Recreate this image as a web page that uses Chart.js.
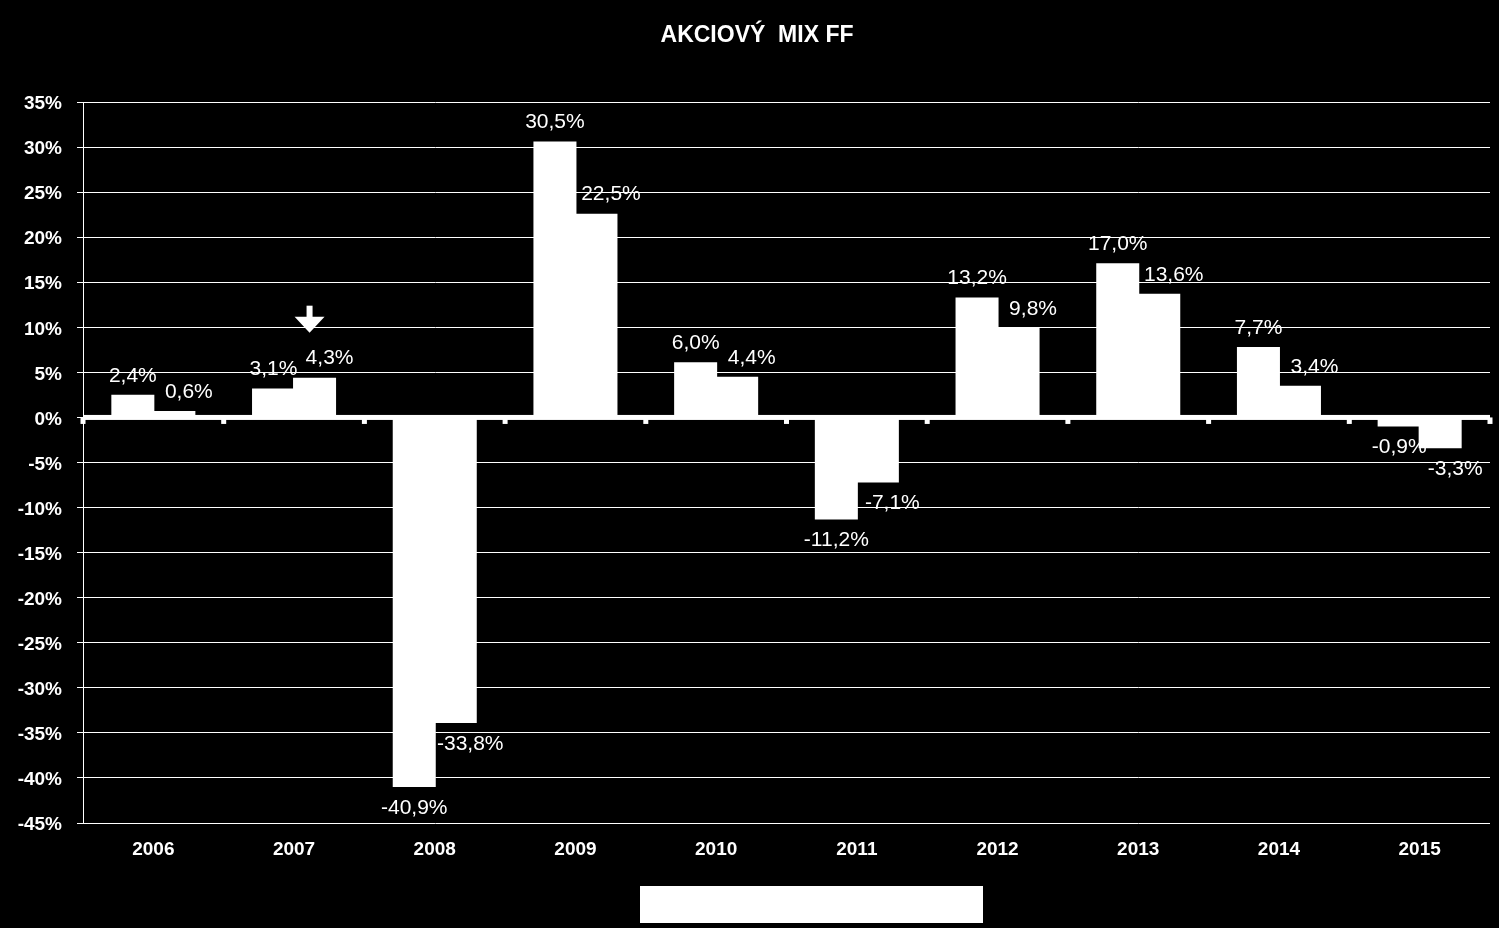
<!DOCTYPE html>
<html>
<head>
<meta charset="utf-8">
<script src="https://cdn.jsdelivr.net/npm/chart.js@4/dist/chart.umd.min.js"></script>
<style>
  body { margin: 0; background: #000; }
  canvas { display: block; }
</style>
</head>
<body>
<canvas id="chartCanvas" width="1499" height="928"></canvas>
<script>
// chart data
var titleText = "AKCIOVÝ  MIX FF";
var years = ["2006", "2007", "2008", "2009", "2010", "2011", "2012", "2013", "2014", "2015"];
var seriesA = [2.4, 3.1, -40.9, 30.5, 6.0, -11.2, 13.2, 17.0, 7.7, -0.9];
var seriesB = [0.6, 4.3, -33.8, 22.5, 4.4, -7.1, 9.8, 13.6, 3.4, -3.3];
var yMin = -45, yMax = 35, yStep = 5;

var fontName = "'Liberation Sans', Arial, sans-serif";

function fmt(v) {
    return v.toFixed(1).replace(".", ",") + "%";
}

//Plugin drawing the background, zero axis, value labels, arrow, title and legend box
var decor = {
    id: "decor",
    beforeDraw: function (chart) {
        var ctx = chart.ctx;
        ctx.save();
        ctx.fillStyle = "#000";
        ctx.fillRect(0, 0, chart.width, chart.height);
        ctx.restore();
    },
    afterDatasetsDraw: function (chart) {
        var ctx = chart.ctx;
        var area = chart.chartArea;
        var y0 = chart.scales.y.getPixelForValue(0);
        ctx.save();
        ctx.fillStyle = "#fff";

        // zero axis line with category boundary ticks
        ctx.fillRect(area.left, y0 - 2.5, area.right - area.left, 5);
        var step = (area.right - area.left) / years.length;
        for (var i = 0; i <= years.length; i++) {
            var bx = area.left + i * step;
            ctx.fillRect(bx - 2.5, y0, 5, 6.5);
        }

        // value labels
        ctx.font = "21px " + fontName;
        ctx.textAlign = "center";
        ctx.textBaseline = "middle";
        var offsets = [0, 15];
        chart.data.datasets.forEach(function (ds, di) {
            var meta = chart.getDatasetMeta(di);
            meta.data.forEach(function (bar, j) {
                var v = ds.data[j];
                var ly = v >= 0 ? bar.y - 20 : bar.y + 22;
                ctx.fillText(fmt(v), bar.x + offsets[di], ly);
            });
        });

        // arrow above the 2007 bar
        var mark = chart.getDatasetMeta(1).data[1];
        var ax = mark.x - 5;
        var tip = mark.y - 46;
        ctx.fillRect(ax - 3, tip - 27, 6, 12);
        ctx.beginPath();
        ctx.moveTo(ax - 15, tip - 16);
        ctx.lineTo(ax + 15, tip - 16);
        ctx.lineTo(ax, tip);
        ctx.closePath();
        ctx.fill();

        // title
        ctx.font = "bold 23px " + fontName;
        ctx.fillText(titleText, 757, 36);

        // legend box
        ctx.fillRect(640, 886, 343, 37);
        ctx.restore();
    }
};

var canvasChart = document.getElementById("chartCanvas");
var mychart = new Chart(canvasChart, {
    type: "bar",
    data: {
        labels: years,
        datasets: [{
            label: "A",
            data: seriesA,
            backgroundColor: "#fff",
            borderWidth: 0,
            inflateAmount: 1
        }, {
            label: "B",
            data: seriesB,
            backgroundColor: "#fff",
            borderWidth: 0,
            inflateAmount: 1
        }]
    },
    options: {
        responsive: false,
        devicePixelRatio: 1,
        animation: false,
        layout: {
            padding: { top: 102, right: 9, bottom: 0, left: 0 }
        },
        datasets: {
            bar: {
                categoryPercentage: 0.583,
                barPercentage: 1
            }
        },
        plugins: {
            legend: { display: false },
            tooltip: { enabled: false },
            title: { display: false }
        },
        scales: {
            x: {
                grid: { display: false, drawTicks: false },
                border: { display: false },
                ticks: {
                    color: "#fff",
                    font: { family: fontName, size: 19, weight: "bold" },
                    padding: 15,
                    maxRotation: 0
                },
                afterFit: function (scale) { scale.height = 105; }
            },
            y: {
                min: yMin,
                max: yMax,
                grid: {
                    color: "#fff",
                    lineWidth: 1,
                    tickLength: 6
                },
                border: { display: true, color: "#fff", width: 1 },
                ticks: {
                    stepSize: yStep,
                    color: "#fff",
                    font: { family: fontName, size: 19, weight: "bold" },
                    padding: 15,
                    labelOffset: 2,
                    callback: function (v) { return v + "%"; }
                },
                afterFit: function (scale) { scale.width = 83; }
            }
        }
    },
    plugins: [decor]
});
</script>
</body>
</html>
